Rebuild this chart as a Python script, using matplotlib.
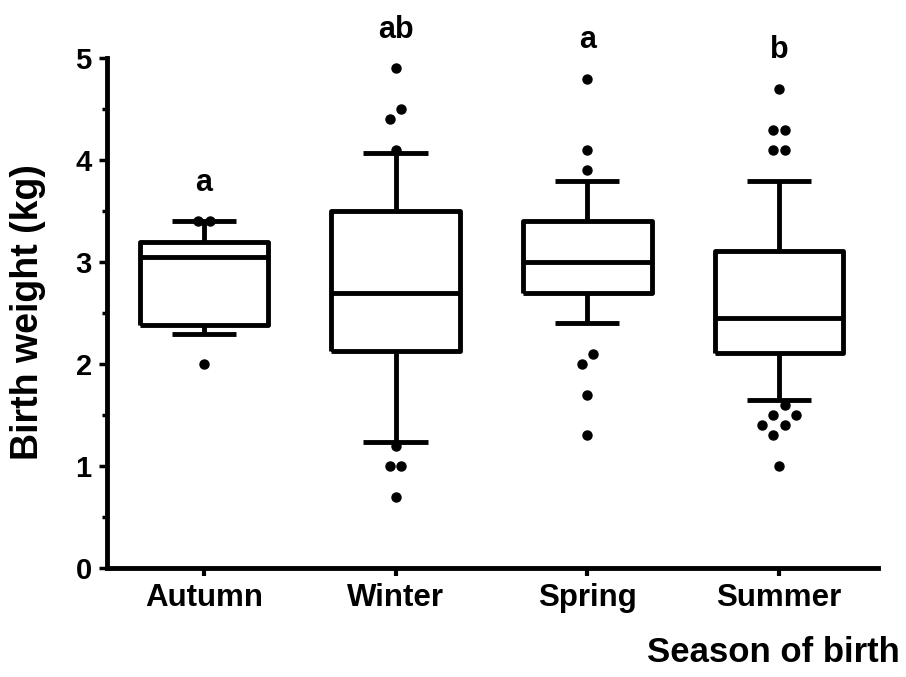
import numpy as np
import matplotlib
matplotlib.use('Agg')
import matplotlib.pyplot as plt
from matplotlib.ticker import MultipleLocator

plt.rcParams['font.family'] = ['Liberation Sans', 'DejaVu Sans']
plt.rcParams['font.weight'] = 'bold'

# Dados
seasons = ['Autumn', 'Winter', 'Spring', 'Summer']
letters = ['a', 'ab', 'a', 'b']
q1 = [2.38, 2.13, 2.70, 2.11]
median = [3.05, 2.70, 3.00, 2.45]
q3 = [3.20, 3.50, 3.40, 3.11]
whis_lo = [2.30, 1.24, 2.40, 1.65]
whis_hi = [3.40, 4.07, 3.80, 3.80]
outliers = [
    [3.4, 3.4, 2.0],
    [4.9, 4.5, 4.4, 4.1, 1.2, 1.0, 1.0, 0.7],
    [4.8, 4.1, 3.9, 2.1, 2.0, 1.7, 1.3],
    [4.7, 4.3, 4.3, 4.1, 4.1, 1.6, 1.5, 1.5, 1.4, 1.4, 1.3, 1.0],
]

fig = plt.figure(figsize=(9.06, 6.77), dpi=100)
ax = fig.add_axes([0.118, 0.161, 0.851, 0.753])

lw = 3.5
stats = []
for i in range(len(seasons)):
    stats.append(dict(med=median[i], q1=q1[i], q3=q3[i],
                      whislo=whis_lo[i], whishi=whis_hi[i], fliers=[]))

style = dict(color='black', linewidth=lw, solid_joinstyle='round', solid_capstyle='butt')
ax.bxp(stats, positions=range(len(seasons)), widths=0.67, showfliers=False,
       boxprops=style, medianprops=style, whiskerprops=style, capprops=style)

# espalhamento simples dos pontos (tipo beeswarm), em pixels
px_x = 191.7   # pixels por unidade no eixo x
px_y = 102.0   # pixels por unidade no eixo y
step = 11.5
diam = 11.0
for i, vals in enumerate(outliers):
    vals = sorted(vals)
    placed = []
    for v in vals:
        k = 0
        cands = [0]
        for n in range(1, 10):
            cands += [n, -n]
        for c in cands:
            ok = True
            for (ox, oy) in placed:
                d = np.hypot((c * step - ox), (v - oy) * px_y)
                if d < diam:
                    ok = False
                    break
            if ok:
                placed.append((c * step, v))
                break
    # centrar cada grupo
    groups = [[placed[0]]]
    for p in placed[1:]:
        if (p[1] - groups[-1][-1][1]) * px_y < diam:
            groups[-1].append(p)
        else:
            groups.append([p])
    xs, ys = [], []
    for g in groups:
        m = np.mean([p[0] for p in g])
        for p in g:
            xs.append(i + (p[0] - m) / px_x)
            ys.append(p[1])
    ax.plot(xs, ys, 'o', color='black', markersize=6.5, zorder=5, clip_on=False)

# letras de significância
for i, lab in enumerate(letters):
    top = max(outliers[i] + [whis_hi[i]])
    ax.text(i, top + 0.3, lab, ha='center', va='baseline', fontsize=22,
            fontweight='bold')

ax.set_xlim(-0.506, 3.516)
ax.set_ylim(0, 5)
ax.set_xticks(range(len(seasons)))
ax.set_xticklabels(seasons, fontsize=22.5, fontweight='bold')
ax.yaxis.set_major_locator(MultipleLocator(1))
ax.yaxis.set_minor_locator(MultipleLocator(0.5))
for t in ax.get_yticklabels():
    t.set_fontsize(21)
    t.set_fontweight('bold')

ax.spines['top'].set_visible(False)
ax.spines['right'].set_visible(False)
ax.spines['left'].set_linewidth(3.5)
ax.spines['bottom'].set_linewidth(3.5)
ax.tick_params(axis='y', which='major', length=6, width=2.5, pad=5)
ax.tick_params(axis='y', which='minor', length=3.5, width=2.5)
ax.tick_params(axis='x', which='major', length=6, width=3, pad=5)

fig.text(0.0304, 0.539, 'Birth weight (kg)', rotation=90, ha='center', va='center',
         fontsize=27, fontweight='bold')
fig.text(0.9934, 0.0222, 'Season of birth', ha='right', va='baseline',
         fontsize=25, fontweight='bold')

fig.savefig('out.png', dpi=100)
